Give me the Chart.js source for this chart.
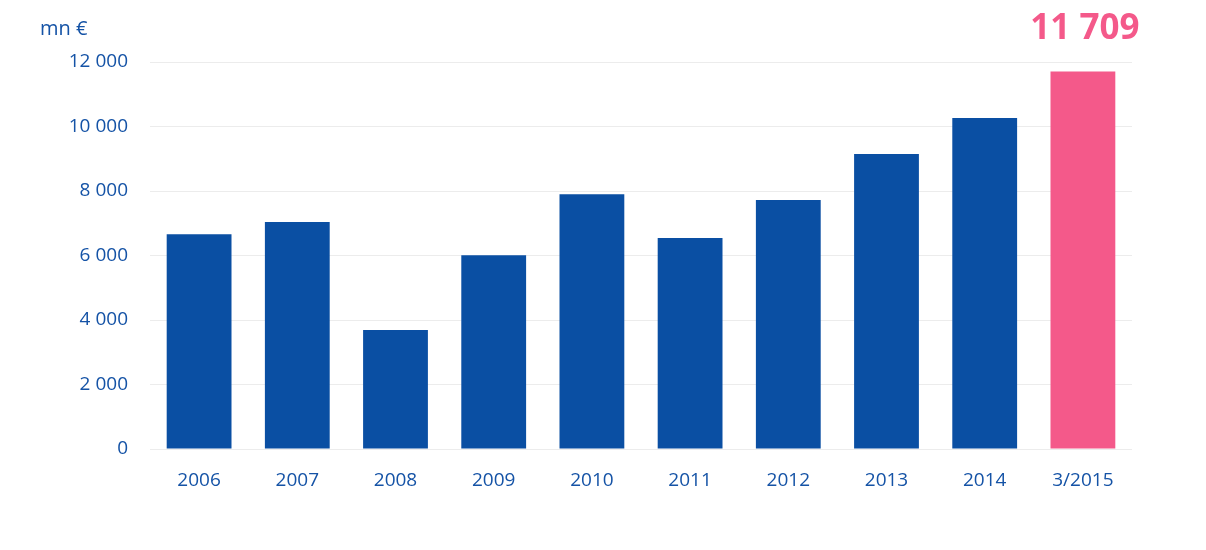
<!DOCTYPE html>
<html>
<head>
<meta charset="utf-8">
<script src="https://cdn.jsdelivr.net/npm/chart.js@4/dist/chart.umd.min.js"></script>
<style>
  html, body { margin: 0; padding: 0; background: #fff; }
  #wrap { position: relative; width: 1206px; height: 550px; }
  .unit { position: absolute; left: 40px; top: 14px; font: 20px "Open Sans", sans-serif; color: #1553a6; }
</style>
</head>
<body>
<div id="wrap">
  <canvas id="chart" width="1206" height="550"></canvas>
  <div class="unit">mn €</div>
</div>
<script>
const categories = ['2006', '2007', '2008', '2009', '2010', '2011', '2012', '2013', '2014', '3/2015'];
const values = [6660, 7040, 3690, 6010, 7900, 6540, 7720, 9150, 10260, 11709];
const yTicks = [0, 2000, 4000, 6000, 8000, 10000, 12000];

const blue = '#0a4fa3';
const pink = '#f4598a';
const textBlue = '#1553a6';

const fmt = v => String(v).replace(/\B(?=(\d{3})+(?!\d))/g, ' ');

// big label above the last bar
const lastLabel = {
    id: 'lastLabel',
    afterDatasetsDraw(chart) {
        const meta = chart.getDatasetMeta(0);
        const i = values.length - 1;
        const bar = meta.data[i];
        const ctx = chart.ctx;
        ctx.save();
        ctx.fillStyle = pink;
        ctx.font = 'bold 35px "Open Sans", sans-serif';
        ctx.textAlign = 'center';
        ctx.textBaseline = 'middle';
        ctx.fillText(fmt(values[i]), bar.x + 2, 29);
        ctx.restore();
    }
};

new Chart(document.getElementById('chart'), {
    type: 'bar',
    data: {
        labels: categories,
        datasets: [{
            data: values,
            backgroundColor: values.map((_, i) => i === values.length - 1 ? pink : blue),
            borderWidth: 0,
            barPercentage: 0.66,
            categoryPercentage: 1.0
        }]
    },
    options: {
        responsive: false,
        animation: false,
        layout: { padding: { top: 62, right: 74, left: 0, bottom: 0 } },
        plugins: {
            legend: { display: false },
            tooltip: { enabled: false }
        },
        scales: {
            x: {
                grid: { display: false },
                border: { display: false },
                ticks: {
                    color: textBlue,
                    padding: 12,
                    font: { family: '"Open Sans", sans-serif', size: 19 }
                },
                afterFit(scale) { scale.height = 101; }
            },
            y: {
                min: 0,
                max: 12000,
                afterBuildTicks(scale) { scale.ticks = yTicks.map(v => ({ value: v })); },
                grid: { color: '#ececec', lineWidth: 1, drawTicks: false },
                border: { display: false },
                ticks: {
                    color: textBlue,
                    padding: 22,
                    font: { family: '"Open Sans", sans-serif', size: 19 },
                    callback: v => fmt(v)
                },
                afterFit(scale) { scale.width = 150; }
            }
        }
    },
    plugins: [lastLabel]
});
</script>
</body>
</html>
